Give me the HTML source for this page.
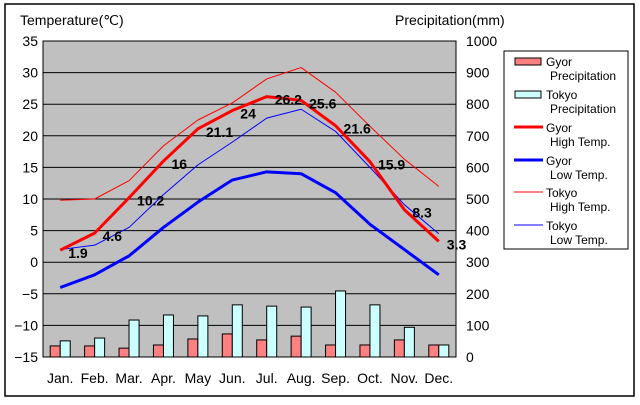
<!DOCTYPE html>
<html><head><meta charset="utf-8"><style>
body{margin:0;background:#fff;}
svg{font-family:"Liberation Sans",sans-serif;}
</style></head><body>
<svg id="c" width="640" height="400" xmlns="http://www.w3.org/2000/svg">
<rect x="5" y="4" width="629" height="392" fill="#fff" stroke="#000" stroke-width="1.5"/>
<text x="20" y="25" font-size="14">Temperature(℃)</text>
<text x="395" y="25" font-size="14">Precipitation(mm)</text>
<rect x="43" y="41" width="413" height="316" fill="#c0c0c0" stroke="#000"/>
<g id="grid"></g><g id="bars"></g><g id="lines"></g><g id="labels"></g><g id="axes"></g>
<g>
<rect x="504" y="51" width="124" height="198" fill="#fff" stroke="#000"/>
<rect x="515" y="58" width="26" height="7" fill="#ff8080" stroke="#000"/>
<text x="546" y="66" font-size="12">Gyor<tspan x="550" dy="14">Precipitation</tspan></text>
<rect x="515" y="91" width="26" height="7" fill="#ccffff" stroke="#000"/>
<text x="546" y="99" font-size="12">Tokyo<tspan x="550" dy="14">Precipitation</tspan></text>
<line x1="514" y1="127" x2="543" y2="127" stroke="#f00" stroke-width="3"/>
<text x="546" y="132" font-size="12">Gyor<tspan x="550" dy="14">High Temp.</tspan></text>
<line x1="514" y1="160" x2="543" y2="160" stroke="#00f" stroke-width="3"/>
<text x="546" y="165" font-size="12">Gyor<tspan x="550" dy="14">Low Temp.</tspan></text>
<line x1="514" y1="192" x2="543" y2="192" stroke="#f00" stroke-width="1"/>
<text x="546" y="197" font-size="12">Tokyo<tspan x="550" dy="14">High Temp.</tspan></text>
<line x1="514" y1="225" x2="543" y2="225" stroke="#00f" stroke-width="1"/>
<text x="546" y="230" font-size="12">Tokyo<tspan x="550" dy="14">Low Temp.</tspan></text>
</g>
</svg>
<script>
const months=["Jan.","Feb.","Mar.","Apr.","May","Jun.","Jul.","Aug.","Sep.","Oct.","Nov.","Dec."];
const gyorHigh=[1.9,4.6,10.2,16,21.1,24,26.2,25.6,21.6,15.9,8.3,3.3];
const gyorLow=[-4,-2,1,5.5,9.5,13,14.3,14,11,6,2,-2];
const tokyoHigh=[9.8,10,12.9,18.4,22.5,25.2,29,30.8,26.9,21.5,16.3,12];
const tokyoLow=[2,2.7,5.5,10.7,15.4,19,22.8,24.2,20.7,15,9.1,4.5];
const gyorPrecip=[35,35,28,38,57,73,54,66,38,38,54,38];
const tokyoPrecip=[51,60,117,133,130,165,161,158,209,165,94,38];
const tempTicks=[35,30,25,20,15,10,5,0,-5,-10,-15];
const precipTicks=[1000,900,800,700,600,500,400,300,200,100,0];
const NS="http://www.w3.org/2000/svg";
const X0=43,W=413,Y0=41,H=316;
const x=i=>X0+W/12*(i+0.5);
const yT=v=>Y0+(35-v)/50*H;
const yP=v=>Y0+(1000-v)/1000*H;
function mk(tag,attrs,parent){const e=document.createElementNS(NS,tag);for(const k in attrs)e.setAttribute(k,attrs[k]);document.getElementById(parent).appendChild(e);return e;}
tempTicks.forEach(t=>{
  if(t<35&&t>-15){const l=mk("line",{x1:X0,x2:X0+W,y1:yT(t),y2:yT(t),stroke:"#000"},"grid");
  
  }
  const tx=mk("text",{x:38,y:yT(t)+5,"font-size":14,"text-anchor":"end"},"axes");tx.textContent=t<0?"−"+(-t):t;
  
  
});
precipTicks.forEach(t=>{
  const tx=mk("text",{x:466,y:yP(t)+5,"font-size":14},"axes");tx.textContent=t;
  
  
});
months.forEach((m,i)=>{
  const tx=mk("text",{x:x(i),y:383,"font-size":14,"text-anchor":"middle"},"axes");tx.textContent=m;
  
  
  const b1=mk("rect",{x:x(i)-10,y:yP(gyorPrecip[i]),width:10,height:yP(0)-yP(gyorPrecip[i]),fill:"#ff8080",stroke:"#000"},"bars");
  
  
  const b2=mk("rect",{x:x(i),y:yP(tokyoPrecip[i]),width:10,height:yP(0)-yP(tokyoPrecip[i]),fill:"#ccffff",stroke:"#000"},"bars");
  
  
});
function line(data,color,w,name){
  const p=mk("polyline",{points:data.map((v,i)=>x(i)+","+yT(v)).join(" "),fill:"none",stroke:color,"stroke-width":w,"stroke-linejoin":"round"},"lines");
  
  
}
line(tokyoHigh,"#f00",1,"tokyo-high-line");
line(tokyoLow,"#00f",1,"tokyo-low-line");
line(gyorHigh,"#f00",3,"gyor-high-line");
line(gyorLow,"#00f",3,"gyor-low-line");
gyorHigh.forEach((v,i)=>{
  const t=mk("text",{x:x(i)+8,y:yT(v)+8,"font-size":14,"font-weight":"bold"},"labels");t.textContent=v;
  
  
});
</script>
</body></html>
